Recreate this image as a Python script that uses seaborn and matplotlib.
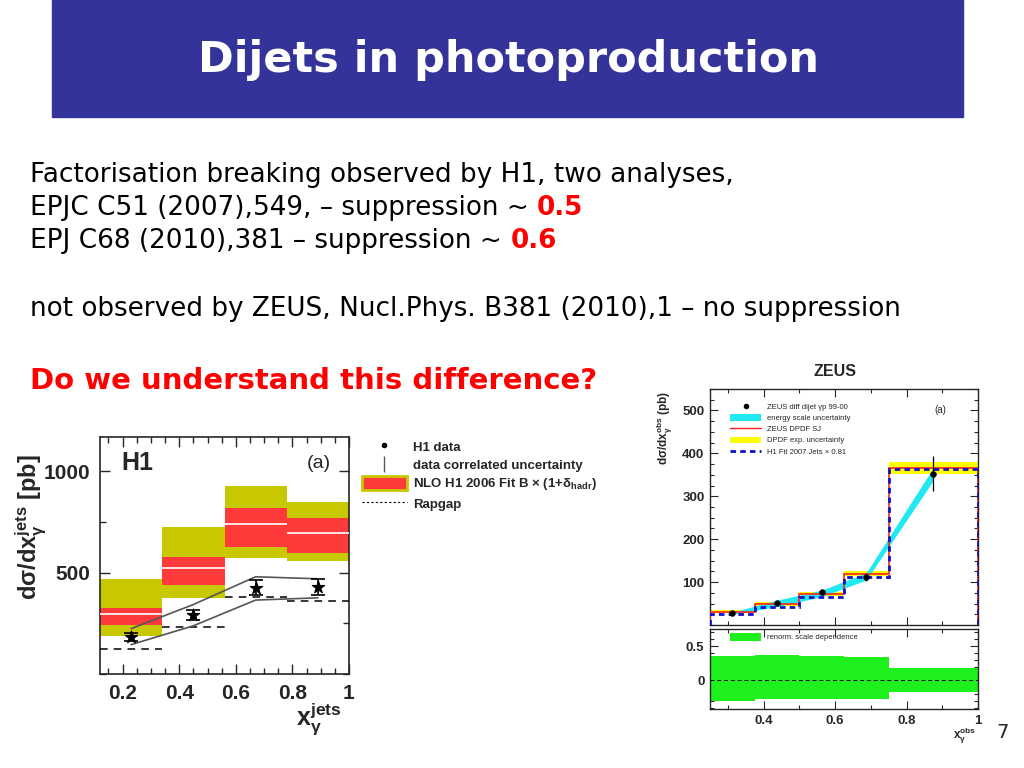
import numpy as np
import matplotlib
matplotlib.use("Agg")
import matplotlib.pyplot as plt
import seaborn as sns
from matplotlib.patches import Rectangle, Patch
from matplotlib.lines import Line2D
from matplotlib.ticker import MultipleLocator

sns.set_theme(style="ticks")
plt.rcParams['font.family'] = ['DejaVu Sans']
plt.rcParams['mathtext.fontset'] = 'custom'
plt.rcParams['mathtext.rm'] = 'Liberation Sans:bold'
plt.rcParams['mathtext.it'] = 'Liberation Sans:bold'
plt.rcParams['mathtext.bf'] = 'Liberation Sans:bold'
plt.rcParams['mathtext.default'] = 'regular'

# --- H1 panel data (pb) ---
h1_edges = [0.12, 0.34, 0.56, 0.78, 1.0]
h1_nlo = [294, 522, 740, 695]
h1_red_lo = [241, 439, 629, 596]
h1_red_hi = [327, 579, 819, 769]
h1_yel_lo = [190, 373, 574, 558]
h1_yel_hi = [467, 725, 926, 851]
h1_x = [0.23, 0.45, 0.67, 0.89]
h1_y = [183, 291, 426, 431]
h1_err = [20, 25, 36, 40]
h1_corr_hi = [224, 343, 480, 470]
h1_corr_lo = [145, 238, 365, 376]
h1_rapgap = [121, 233, 381, 360]

# --- ZEUS panel data (pb) ---
zeus_edges = [0.25, 0.375, 0.5, 0.625, 0.75, 1.0]
zeus_dpdf = [31, 49, 72, 120, 366]
zeus_dpdf_err = [4, 4, 5, 5, 13]
zeus_h1fit = [26, 41, 65, 112, 363]
zeus_x = [0.3125, 0.4375, 0.5625, 0.6875, 0.875]
zeus_y = [27, 52, 76, 112, 353]
zeus_err = [3, 4, 5, 10, 40]
zeus_escale_hi = [30, 58, 81, 122, 367]
zeus_escale_lo = [25, 43, 66, 105, 337]
zeus_renorm_hi = [0.35, 0.37, 0.355, 0.335, 0.18]
zeus_renorm_lo = [-0.30, -0.28, -0.28, -0.27, -0.175]

W, H = 1024, 768
fig = plt.figure(figsize=(W / 100, H / 100), dpi=100)

def fx(x):
    return x / W

def fy(y):
    return 1 - y / H

# title banner
fig.patches.append(Rectangle((fx(52), fy(117)), 911 / W, 117 / H,
                             transform=fig.transFigure, color='#333399', zorder=0))
fig.text(fx(508), fy(60), "Dijets in photoproduction", color='white',
         fontsize=31, weight='bold', ha='center', va='center')

renderer = fig.canvas.get_renderer()

def text_line(x, y, parts, size=18.9):
    # draw pieces of one line one after the other
    for txt, color, weight in parts:
        t = fig.text(fx(x), fy(y), txt, color=color, fontsize=size,
                     weight=weight, ha='left', va='center')
        bb = t.get_window_extent(renderer=renderer)
        x = x + bb.width

text_line(30, 175, [("Factorisation breaking observed by H1, two analyses,", 'black', 'normal')])
text_line(30, 208, [("EPJC C51 (2007),549, – suppression ~ ", 'black', 'normal'),
                    ("0.5", '#ff0000', 'bold')])
text_line(30, 241, [("EPJ C68 (2010),381 – suppression ~ ", 'black', 'normal'),
                    ("0.6", '#ff0000', 'bold')])
text_line(30, 309, [("not observed by ZEUS, Nucl.Phys. B381 (2010),1 – no suppression", 'black', 'normal')])
text_line(30, 381, [("Do we understand this difference?", '#ff0000', 'bold')], size=21)

fig.text(fx(1003), fy(733), "7", fontsize=14, ha='center', va='center')

AX_FONT = 'Liberation Sans'

# ---------------- H1 plot ----------------
ax1 = fig.add_axes([fx(100), fy(674), 249 / W, 237 / H])
e = np.array(h1_edges)
cen = (e[:-1] + e[1:]) / 2
wid = np.diff(e)
ax1.bar(cen, np.array(h1_yel_hi) - np.array(h1_yel_lo), wid, bottom=h1_yel_lo,
        color='#c8c800', linewidth=0, zorder=1)
ax1.bar(cen, np.array(h1_red_hi) - np.array(h1_red_lo), wid, bottom=h1_red_lo,
        color='#ff3a3a', linewidth=0, zorder=2)
ax1.hlines(h1_nlo, e[:-1], e[1:], color='white', lw=1.2, zorder=3)
ax1.hlines(h1_rapgap, e[:-1], e[1:], color='black', lw=1.1,
           linestyles=(0, (5, 4)), zorder=3)
sns.lineplot(x=h1_x, y=h1_corr_hi, color='#555555', lw=1.2, ax=ax1, zorder=4)
sns.lineplot(x=h1_x, y=h1_corr_lo, color='#555555', lw=1.2, ax=ax1, zorder=4)
ax1.errorbar(h1_x, h1_y, yerr=h1_err, fmt='none', ecolor='black', elinewidth=1.2,
             capsize=5, capthick=1.2, zorder=5)
sns.scatterplot(x=h1_x, y=h1_y, marker='*', s=90, color='black', edgecolor='black',
                ax=ax1, zorder=6)
ax1.set_xlim(0.12, 1.0)
ax1.set_ylim(0, 1170)
ax1.set_xticks([0.2, 0.4, 0.6, 0.8, 1.0], ['0.2', '0.4', '0.6', '0.8', '1'])
ax1.set_yticks([500, 1000])
ax1.xaxis.set_minor_locator(MultipleLocator(0.05))
ax1.yaxis.set_minor_locator(MultipleLocator(250))
ax1.tick_params(which='both', direction='in', top=True, right=True, width=1)
ax1.tick_params(which='major', length=7, pad=7)
ax1.tick_params(which='minor', length=4)
for lab in ax1.get_xticklabels() + ax1.get_yticklabels():
    lab.set_fontfamily(AX_FONT)
    lab.set_fontweight('bold')
    lab.set_fontsize(15)
for s in ax1.spines.values():
    s.set_linewidth(1.2)
ax1.set_xlabel("")
ax1.set_ylabel("")
ax1.text(0.15, 0.89, "H1", transform=ax1.transAxes, fontsize=18, weight='bold',
         family=AX_FONT, ha='center', va='center')
ax1.text(0.88, 0.89, "(a)", transform=ax1.transAxes, fontsize=14,
         family=AX_FONT, ha='center', va='center')
ax1.text(0.88, -0.19, "x$_{γ}^{jets}$", transform=ax1.transAxes, fontsize=18,
         weight='bold', family=AX_FONT, ha='center', va='center')
ax1.text(-0.28, 0.62, "dσ/dx$_{γ}^{jets}$ [pb]", transform=ax1.transAxes, fontsize=17,
         weight='bold', family=AX_FONT, rotation=90, ha='center', va='center')

# H1 legend outside the axes
h1_handles = [
    Line2D([], [], ls='none', marker='.', color='black', markersize=6),
    Line2D([], [], ls='none', marker='|', color='#555555', markersize=12),
    Patch(facecolor='#ff3a3a', edgecolor='#c8c800', linewidth=2),
    Line2D([], [], ls=(0, (2, 2)), color='black', lw=0.8),
]
h1_labels = ["H1 data", "data correlated uncertainty",
             "NLO H1 2006 Fit B × (1+δ$_{hadr}$)", "Rapgap"]
fig.legend(h1_handles, h1_labels, loc='upper left', bbox_to_anchor=(fx(350), fy(428)),
           frameon=False, handlelength=3.4, handleheight=1.2, handletextpad=0.5,
           labelspacing=0.3,
           prop={'family': AX_FONT, 'weight': 'bold', 'size': 9.5})

# ---------------- ZEUS plot ----------------
ax2 = fig.add_axes([fx(710), fy(625), 268 / W, 236 / H])
ax3 = fig.add_axes([fx(710), fy(709), 268 / W, 80 / H])
ze = np.array(zeus_edges)
zc = (ze[:-1] + ze[1:]) / 2
zw = np.diff(ze)
dp = np.array(zeus_dpdf)
de = np.array(zeus_dpdf_err)
ax2.bar(zc, 2 * de, zw, bottom=dp - de, color='#ffff00', linewidth=0, zorder=1)
ax2.fill_between(zeus_x, zeus_escale_lo, zeus_escale_hi, color='#22e8f2',
                 linewidth=0, zorder=2)
ax2.stairs(zeus_dpdf, zeus_edges, color='#ff2020', lw=1.2, zorder=3)
ax2.stairs(zeus_h1fit, zeus_edges, color='#1010cc', lw=2, ls=(0, (2, 1.5)), zorder=4)
ax2.errorbar(zeus_x, zeus_y, yerr=zeus_err, fmt='none', ecolor='black',
             elinewidth=0.9, zorder=5)
sns.scatterplot(x=zeus_x, y=zeus_y, s=18, color='black', edgecolor='black',
                ax=ax2, zorder=6)
ax2.set_xlim(0.25, 1.0)
ax2.set_ylim(0, 550)
ax2.set_yticks([100, 200, 300, 400, 500])
ax2.set_xticks([0.4, 0.6, 0.8, 1.0])
ax2.set_xticklabels([])
ax2.yaxis.set_minor_locator(MultipleLocator(25))
ax2.xaxis.set_minor_locator(MultipleLocator(0.1))
ax2.set_xlabel("")
ax2.set_ylabel("")

ax3.bar(zc, np.array(zeus_renorm_hi) - np.array(zeus_renorm_lo), zw * 0.995,
        bottom=zeus_renorm_lo, color='#1ef01e', linewidth=0, zorder=1,
        label='renorm. scale dependence')
ax3.axhline(0, color='black', lw=0.7, ls=(0, (4, 3)), zorder=2)
ax3.set_xlim(0.25, 1.0)
ax3.set_ylim(-0.42, 0.75)
ax3.set_yticks([0, 0.5], ['0', '0.5'])
ax3.set_xticks([0.4, 0.6, 0.8, 1.0], ['0.4', '0.6', '0.8', '1'])
ax3.yaxis.set_minor_locator(MultipleLocator(0.1))
ax3.xaxis.set_minor_locator(MultipleLocator(0.1))
ax3.legend(loc='upper left', bbox_to_anchor=(0.05, 1.04), frameon=False,
           handlelength=4, handleheight=1.3, prop={'family': AX_FONT, 'size': 5.5})

for a in (ax2, ax3):
    a.tick_params(which='both', direction='in', top=True, right=True, width=0.8)
    a.tick_params(which='major', length=6, pad=4)
    a.tick_params(which='minor', length=3)
    for lab in a.get_xticklabels() + a.get_yticklabels():
        lab.set_fontfamily(AX_FONT)
        lab.set_fontweight('bold')
        lab.set_fontsize(9.5)
    for s in a.spines.values():
        s.set_linewidth(1)

z_handles = [
    Line2D([], [], ls='none', marker='o', color='black', markersize=3),
    Patch(facecolor='#22e8f2', linewidth=0),
    Line2D([], [], color='#ff2020', lw=1),
    Patch(facecolor='#ffff00', linewidth=0),
    Line2D([], [], color='#1010cc', lw=2, ls=(0, (2, 1.5))),
]
z_labels = ["ZEUS diff dijet γp 99-00", "energy scale uncertainty", "ZEUS DPDF SJ",
            "DPDF exp. uncertainty", "H1 Fit 2007 Jets × 0.81"]
ax2.legend(z_handles, z_labels, loc='upper left', bbox_to_anchor=(0.05, 0.97),
           frameon=False, handlelength=4, handleheight=0.9, labelspacing=0.45,
           prop={'family': AX_FONT, 'size': 5.5})
ax2.text(0.86, 0.91, "(a)", transform=ax2.transAxes, fontsize=7, family=AX_FONT,
         ha='center', va='center')
ax2.text(-0.17, 0.835, "dσ/dx$_{γ}^{obs}$ (pb)", transform=ax2.transAxes, fontsize=8.5,
         weight='bold', family=AX_FONT, rotation=90, ha='center', va='center')
fig.text(fx(835), fy(372), "ZEUS", fontsize=11.5, weight='bold', family=AX_FONT,
         ha='center', va='center')
ax3.text(0.95, -0.33, "x$_{γ}^{obs}$", transform=ax3.transAxes, fontsize=8.5,
         weight='bold', family=AX_FONT, ha='center', va='center')

fig.savefig("out.png", dpi=100)
